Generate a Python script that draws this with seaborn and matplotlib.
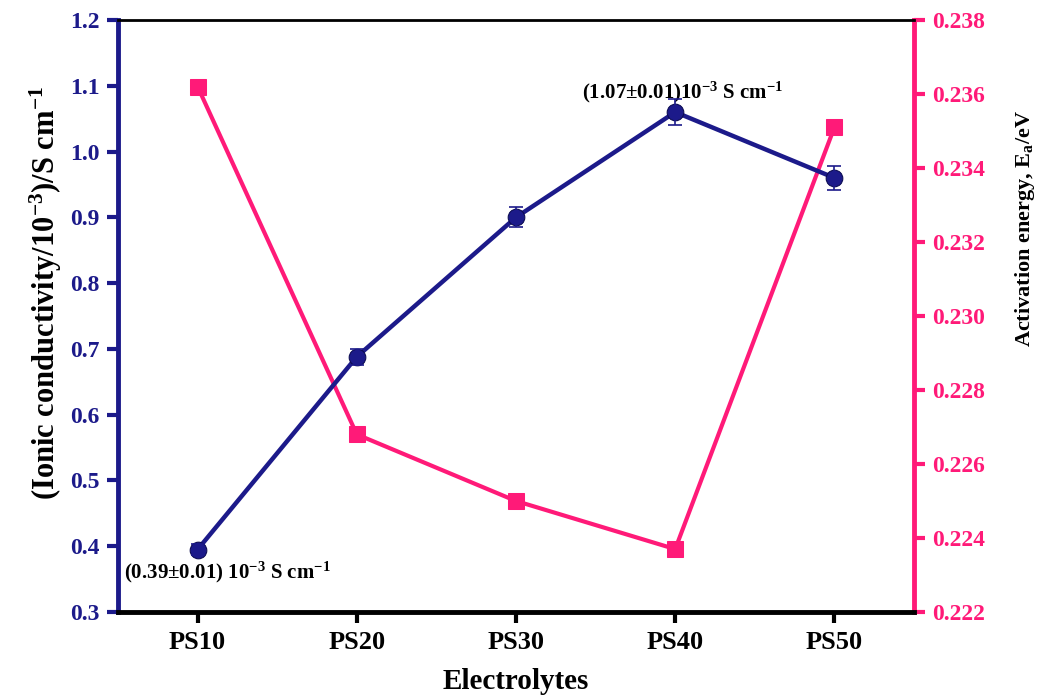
import matplotlib
matplotlib.use("Agg")
import matplotlib.pyplot as plt
import seaborn as sns
import pandas as pd
import numpy as np

categories = ["PS10", "PS20", "PS30", "PS40", "PS50"]
conductivity = [0.395, 0.688, 0.900, 1.060, 0.960]
cond_err = [0.008, 0.012, 0.015, 0.020, 0.018]
activation = [0.2362, 0.2268, 0.2250, 0.2237, 0.2351]

sns.set_theme(style="white")
plt.rcParams['font.family'] = ['Liberation Serif', 'DejaVu Serif']
plt.rcParams['font.weight'] = 'bold'
plt.rcParams['mathtext.fontset'] = 'custom'
plt.rcParams['mathtext.rm'] = 'Liberation Serif:bold'
plt.rcParams['mathtext.it'] = 'Liberation Serif:bold'
plt.rcParams['mathtext.bf'] = 'Liberation Serif:bold'

NAVY = "#1c1a8a"
PINK = "#ff1a78"

df = pd.DataFrame({"Electrolytes": categories, "cond": conductivity, "err": cond_err, "ea": activation})
df["x"] = np.arange(len(categories))

fig = plt.figure(figsize=(10.51, 6.98), dpi=100)
ax = fig.add_axes([118/1051, 1-612/698, (914-118)/1051, (612-20)/698])
ax2 = ax.twinx()

sns.lineplot(data=df, x="x", y="ea", ax=ax2, color=PINK, lw=3, marker="s",
             markersize=11, markeredgecolor=PINK, zorder=2)
sns.lineplot(data=df, x="x", y="cond", ax=ax, color=NAVY, lw=3.2, marker="o",
             markersize=12, markeredgecolor="#0a0a50", zorder=3)
ax.errorbar(df["x"], df["cond"], yerr=df["err"], fmt="none", ecolor=NAVY,
            elinewidth=1.2, capsize=5, capthick=1.2, zorder=4)

ax.set_zorder(ax2.get_zorder() + 1)
ax.patch.set_visible(False)

ax.set_xlim(-0.5, 4.5)
ax.set_ylim(0.3, 1.2)
ax2.set_ylim(0.222, 0.238)
ax.set_xticks(df["x"])
ax.set_xticklabels(categories)
ax.set_yticks(np.arange(0.3, 1.21, 0.1))
ax.set_yticklabels([f"{v:.1f}" for v in np.arange(0.3, 1.21, 0.1)])
ax2.set_yticks(np.arange(0.222, 0.2381, 0.002))
ax2.set_yticklabels([f"{v:.3f}" for v in np.arange(0.222, 0.2381, 0.002)])

for a in (ax, ax2):
    a.grid(False)

ax.spines["top"].set_visible(True)
ax.spines["top"].set_color("black")
ax.spines["top"].set_linewidth(2)
ax2.spines["top"].set_visible(False)
ax.spines["left"].set_color(NAVY)
ax.spines["left"].set_linewidth(3.5)
ax.spines["bottom"].set_color("black")
ax.spines["bottom"].set_linewidth(3.5)
ax.spines["right"].set_visible(False)
ax2.spines["left"].set_visible(False)
ax2.spines["bottom"].set_visible(False)
ax2.spines["right"].set_color(PINK)
ax2.spines["right"].set_linewidth(3.5)

ax.tick_params(axis="y", direction="out", length=8, width=3, color=NAVY,
               labelcolor=NAVY, labelsize=17, left=True, pad=5)
ax.tick_params(axis="x", direction="out", length=8, width=3, color="black",
               labelcolor="black", labelsize=19, bottom=True, pad=6)
ax2.tick_params(axis="y", direction="out", length=8, width=3, color=PINK,
                labelcolor=PINK, labelsize=17, right=True, pad=5)

ax.set_xlabel("Electrolytes", fontsize=21, fontweight="bold", color="black", labelpad=10)
ax.set_ylabel(r"(Ionic conductivity/10$^{-3}$)/S cm$^{-1}$", fontsize=22,
              fontweight="bold", color="black")
ax.yaxis.set_label_coords(-0.068, 0.539)
ax2.set_ylabel(r"Activation energy, E$_{a}$/eV", fontsize=16, fontweight="bold",
               color="black")
ax2.yaxis.set_label_coords(1.124, 0.647)
ax2.set_xlabel("")

ax.text(3.05, 1.09, r"(1.07±0.01)10$^{-3}$ S cm$^{-1}$", ha="center", va="center",
        fontsize=15, fontweight="bold", color="black")
ax.text(-0.46, 0.36, r"(0.39±0.01) 10$^{-3}$ S cm$^{-1}$", ha="left", va="center",
        fontsize=15, fontweight="bold", color="black")

fig.savefig("out.png", dpi=100)
